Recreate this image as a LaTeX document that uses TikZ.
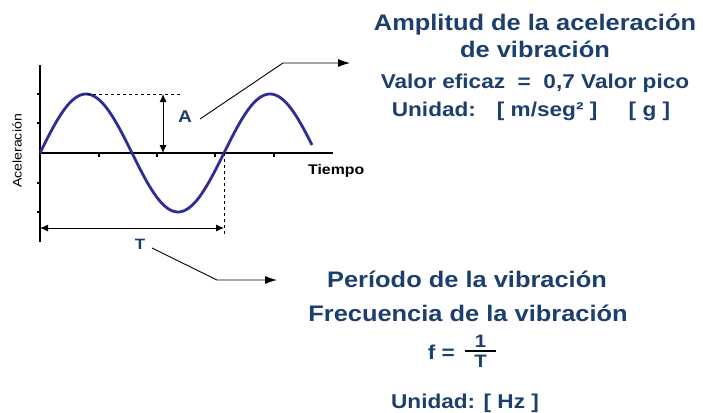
\documentclass[tikz,border=0pt]{standalone}
\usepackage{fontspec}
\setmainfont{Liberation Sans}[FakeStretch=1.13]
\usetikzlibrary{arrows.meta, positioning, calc}
\definecolor{textblue}{HTML}{1C3F6E}
\definecolor{waveblue}{HTML}{2D2D94}

\begin{document}
\begin{tikzpicture}[
    x=1pt, y=-1pt,
    title/.style={font=\bfseries\fontsize{22.5}{26}\selectfont, text=textblue, inner sep=0pt, anchor=base},
    info/.style={font=\bfseries\fontsize{20}{24}\selectfont, text=textblue, inner sep=0pt, anchor=base},
    small/.style={font=\bfseries\fontsize{14}{16}\selectfont, inner sep=0pt, anchor=base},
    arrow/.style={-{Latex[length=12pt, width=8pt]}, line width=0.9pt},
    dim/.style={{Latex[length=8pt, width=7pt]}-{Latex[length=8pt, width=7pt]}, line width=0.9pt},
    axis/.style={line width=2.4pt},
    wave/.style={line width=2.8pt, waveblue},
    guide/.style={dashed, line width=0.9pt}
]
\useasboundingbox (0,0) rectangle (703,412);

% axes
\coordinate (origin) at (40,153);
\coordinate (ytop) at (40,65);
\coordinate (ybot) at (40,242);
\coordinate (xend) at (333,153);
\draw[axis] (ytop) -- (ybot);
\draw[axis] (origin) -- (xend);
\foreach \y in {94,123,183,212}
    \draw[line width=1.5pt] (37,\y) -- (40,\y);
\foreach \x in {99,157,215,274}
    \draw[line width=1.5pt] (\x,153) -- (\x,156.5);

\node[inner sep=0pt, rotate=90, font=\fontsize{12.5}{14}\selectfont] (acel) at (17,151) {Aceleración};
\node[small, anchor=base west] (tiempo) at (308,174) {Tiempo};

% signal
\draw[wave, domain=0:272, samples=120, smooth] plot (40+\x, {153-59*sin(\x/184*360)});

% amplitude
\coordinate (peak) at (87,94);
\coordinate (peakr) at (180,94);
\draw[guide] (peak) -- (peakr);
\coordinate (atop) at (163,94);
\coordinate (abot) at (163,153);
\draw[dim] (atop) -- (abot);
\node[info, font=\bfseries\fontsize{17}{19}\selectfont] (alabel) at (185,122) {A};

% period
\coordinate (tcross) at (224,153);
\coordinate (tbot) at (224,237);
\draw[guide] (tcross) -- (tbot);
\coordinate (tleft) at (40,228);
\coordinate (tright) at (224,228);
\draw[dim] (tleft) -- (tright);
\node[info, font=\bfseries\fontsize{15}{17}\selectfont] (tlabel) at (140,249) {T};

% texts on the right
\node[title] (amptitle) at (535,31) {Amplitud de la aceleración};
\node[title] (ampsub) at (535,57) {de vibración};
\node[info] (eficaz) at (535,88) {Valor eficaz \ = \ 0,7 Valor pico};
\node[info] (unidad) at (531,116) {Unidad: \ \ [ m/seg² ] \ \ \ \ [ g ]};

\node[title] (periodo) at (467,287) {Período de la vibración};
\node[title] (frec) at (468,321) {Frecuencia de la vibración};
\node[info, anchor=base east] (feq) at (455,359) {f =};
\node[info, font=\bfseries\fontsize{18}{20}\selectfont] (num) at (480.5,347) {1};
\node[info, font=\bfseries\fontsize{18}{20}\selectfont] (den) at (480.5,367) {T};
\draw[line width=2pt] (465,351) -- (496,351);
\node[info] (hz) at (465,408) {Unidad: [ Hz ]};

% pointers
\coordinate (astart) at (200,119);
\coordinate (abend) at (283,63);
\coordinate (atip) at (350,63);
\draw[arrow] (astart) -- (abend) -- (atip);
\coordinate (tstart) at (152,248);
\coordinate (tbend) at (217,280);
\coordinate (ttip) at (277,280);
\draw[arrow] (tstart) -- (tbend) -- (ttip);

\end{tikzpicture}
\end{document}
